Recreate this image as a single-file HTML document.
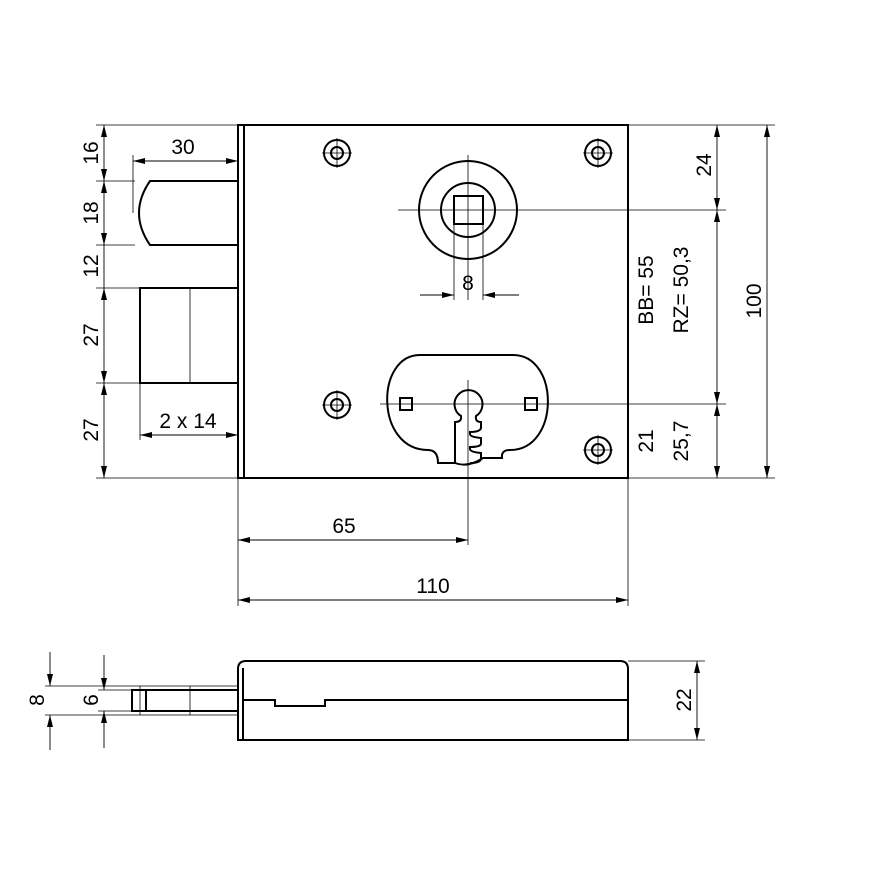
<!DOCTYPE html>
<html><head><meta charset="utf-8"><style>
html,body{margin:0;padding:0;background:#fff}
svg{display:block}
text{font-family:"Liberation Sans",sans-serif;font-size:21px;fill:#000}
</style></head><body>
<svg width="886" height="886" viewBox="0 0 886 886" xmlns="http://www.w3.org/2000/svg">
<defs>
<marker id="a" viewBox="0 0 12 6" refX="12" refY="3" markerWidth="12" markerHeight="6" orient="auto-start-reverse" markerUnits="userSpaceOnUse"><path d="M0,0 L12,3 L0,6z" fill="#000"/></marker>
</defs>
<g fill="none" stroke="#000">
<g stroke-width="0.8">
<line x1="96" y1="125" x2="238" y2="125"/>
<line x1="96" y1="181" x2="135" y2="181"/>
<line x1="96" y1="245" x2="135" y2="245"/>
<line x1="96" y1="288" x2="140" y2="288"/>
<line x1="96" y1="383" x2="140" y2="383"/>
<line x1="96" y1="478" x2="238" y2="478"/>
<line x1="133" y1="155" x2="133" y2="213"/>
<line x1="140" y1="383" x2="140" y2="440"/>
<line x1="190" y1="288" x2="190" y2="383"/>
<line x1="628" y1="125" x2="775" y2="125"/>
<line x1="628" y1="478" x2="775" y2="478"/>
<line x1="398" y1="210" x2="726" y2="210"/>
<line x1="468" y1="155" x2="468" y2="300"/>
<line x1="454" y1="224" x2="454" y2="300"/>
<line x1="483" y1="224" x2="483" y2="300"/>
<line x1="380" y1="404" x2="726" y2="404"/>
<line x1="468" y1="380" x2="468" y2="545"/>
<line x1="238" y1="478" x2="238" y2="606"/>
<line x1="628" y1="478" x2="628" y2="606"/>
<line x1="322" y1="153" x2="352" y2="153"/><line x1="337" y1="138" x2="337" y2="168"/>
<line x1="583" y1="153" x2="613" y2="153"/><line x1="598" y1="138" x2="598" y2="168"/>
<line x1="322" y1="405" x2="352" y2="405"/><line x1="337" y1="390" x2="337" y2="420"/>
<line x1="583" y1="450" x2="613" y2="450"/><line x1="598" y1="435" x2="598" y2="465"/>
<line x1="45" y1="686" x2="238" y2="686"/>
<line x1="45" y1="715" x2="238" y2="715"/>
<line x1="98" y1="690" x2="132" y2="690"/>
<line x1="98" y1="711" x2="132" y2="711"/>
<line x1="140" y1="686" x2="140" y2="715"/>
<line x1="190" y1="686" x2="190" y2="715"/>
<line x1="628" y1="661" x2="705" y2="661"/>
<line x1="628" y1="740" x2="705" y2="740"/>
</g>
<g stroke-width="0.9" marker-start="url(#a)" marker-end="url(#a)">
<line x1="104" y1="125" x2="104" y2="181"/>
<line x1="104" y1="181" x2="104" y2="245"/>
<line x1="104" y1="288" x2="104" y2="383"/>
<line x1="104" y1="383" x2="104" y2="478"/>
<line x1="133" y1="161" x2="238" y2="161"/>
<line x1="140" y1="435" x2="238" y2="435"/>
<line x1="717" y1="125" x2="717" y2="210"/>
<line x1="717" y1="210" x2="717" y2="404"/>
<line x1="717" y1="404" x2="717" y2="478"/>
<line x1="767" y1="125" x2="767" y2="478"/>
<line x1="238" y1="540" x2="468" y2="540"/>
<line x1="238" y1="600" x2="628" y2="600"/>
<line x1="697" y1="661" x2="697" y2="740"/>
</g>
<g stroke-width="0.9">
<line x1="104" y1="245" x2="104" y2="288"/>
<line x1="420" y1="295" x2="454" y2="295" marker-end="url(#a)"/>
<line x1="519" y1="295" x2="483" y2="295" marker-end="url(#a)"/>
<line x1="50" y1="652" x2="50" y2="686" marker-end="url(#a)"/>
<line x1="50" y1="750" x2="50" y2="715" marker-end="url(#a)"/>
<line x1="104" y1="655" x2="104" y2="690" marker-end="url(#a)"/>
<line x1="104" y1="748" x2="104" y2="711" marker-end="url(#a)"/>
</g>
<g stroke-width="2">
<rect x="238" y="125" width="390" height="353"/>
<line x1="244" y1="125" x2="244" y2="478"/>
<path d="M238,181 H150 Q128,213 150,245 H238"/>
<rect x="140" y="288" width="98" height="95"/>
<circle cx="337" cy="153" r="13"/><circle cx="337" cy="153" r="6"/>
<circle cx="598" cy="153" r="13"/><circle cx="598" cy="153" r="6"/>
<circle cx="337" cy="405" r="13"/><circle cx="337" cy="405" r="6"/>
<circle cx="598" cy="450" r="13"/><circle cx="598" cy="450" r="6"/>
<circle cx="468" cy="210" r="49"/><circle cx="468" cy="210" r="27"/>
<rect x="454" y="196" width="29" height="28"/>
<path d="M420,355 H513 C560,355 560,450 510,450 Q501,450 502,458 H483 Q468,468 455,463 H438 Q438,450 428,450 C375,450 375,355 420,355 Z"/>
<rect x="400" y="398" width="12" height="12"/>
<rect x="525" y="398" width="12" height="12"/>
<path d="M455,463 V422 Q462,422 461,416 A14,14 0 1 1 476,416 Q475,422 481,422 V428 Q480,432 470,432 V434 Q470,437 481,438 V444 Q480,447 470,447 V449 Q470,452 481,453 V459 Q480,463 470,463"/>
<path d="M246,661 H620 Q628,661 628,669 V740 H238 V669 Q238,661 246,661 Z"/>
<line x1="243" y1="668" x2="243" y2="740"/>
<path d="M243,700 H275 V706 H325 V700 H628"/>
<rect x="132" y="690" width="106" height="21"/>
<line x1="146" y1="690" x2="146" y2="711"/>
</g>
</g>
<g>
<text x="183" y="154" text-anchor="middle">30</text>
<text x="188" y="428" text-anchor="middle">2 x 14</text>
<text x="344" y="533" text-anchor="middle">65</text>
<text x="433" y="593" text-anchor="middle">110</text>
<text x="468" y="290" text-anchor="middle">8</text>
<text transform="translate(98,153) rotate(-90)" text-anchor="middle">16</text>
<text transform="translate(98,213) rotate(-90)" text-anchor="middle">18</text>
<text transform="translate(98,266) rotate(-90)" text-anchor="middle">12</text>
<text transform="translate(98,335) rotate(-90)" text-anchor="middle">27</text>
<text transform="translate(98,430) rotate(-90)" text-anchor="middle">27</text>
<text transform="translate(711,165) rotate(-90)" text-anchor="middle">24</text>
<text transform="translate(653,290) rotate(-90)" text-anchor="middle">BB= 55</text>
<text transform="translate(688,290) rotate(-90)" text-anchor="middle">RZ= 50,3</text>
<text transform="translate(653,441) rotate(-90)" text-anchor="middle">21</text>
<text transform="translate(688,441) rotate(-90)" text-anchor="middle">25,7</text>
<text transform="translate(761,301) rotate(-90)" text-anchor="middle">100</text>
<text transform="translate(44,700) rotate(-90)" text-anchor="middle">8</text>
<text transform="translate(98,700) rotate(-90)" text-anchor="middle">6</text>
<text transform="translate(691,700) rotate(-90)" text-anchor="middle">22</text>
</g>
</svg>
</body></html>
